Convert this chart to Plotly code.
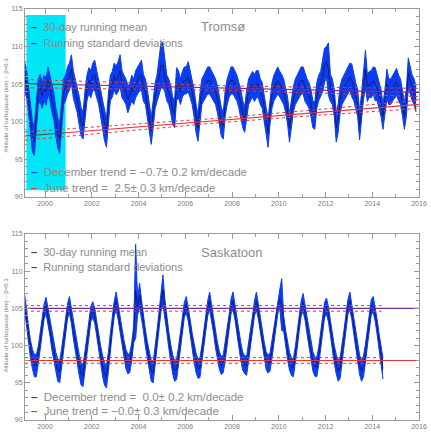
import numpy as np
import plotly.graph_objects as go

# ---------------- data ----------------
START_YEAR = 1999
START_MONTH = 2  # first monthly sample: Feb 1999

# Tromsø 30-day running mean (km), monthly, Feb 1999 - Nov 2015
tromso_mean = [
    106.0, 105.0, 103.0, 100.5, 98.0, 97.5, 100.5, 104.0, 104.5, 103.5, 104.5,
    104.0, 105.5, 104.5, 103.0, 102.0, 100.0, 98.5, 97.8, 101.5, 104.0, 104.5, 105.5,
    106.0, 107.0, 105.0, 104.0, 103.0, 101.5, 100.0, 99.5, 102.5, 104.5, 105.5, 105.0,
    106.0, 106.2, 105.0, 104.0, 102.5, 101.0, 99.5, 98.5, 102.0, 104.5, 105.0, 106.0,
    105.5, 106.0, 106.8, 105.0, 104.5, 104.0, 103.0, 103.5, 104.5, 104.0, 105.0, 105.5,
    106.0, 106.2, 104.5, 104.0, 102.5, 100.5, 98.8, 101.0, 103.5, 104.5, 106.0, 107.5,
    107.5, 106.0, 104.5, 104.0, 103.0, 101.5, 101.0, 105.0, 105.0, 104.0, 105.0, 105.5,
    105.5, 106.0, 105.0, 104.0, 102.5, 100.5, 99.2, 102.0, 104.0, 104.5, 105.0, 105.5,
    105.5, 105.0, 104.5, 104.0, 103.0, 101.5, 100.0, 99.5, 102.5, 104.0, 105.0, 105.5,
    105.5, 105.0, 104.5, 103.5, 102.5, 101.0, 100.3, 102.5, 104.0, 104.5, 105.0, 104.5,
    105.0, 105.0, 104.0, 103.5, 102.0, 100.0, 98.5, 101.5, 103.5, 104.5, 105.0, 105.5,
    105.0, 104.5, 104.0, 103.0, 101.5, 99.2, 101.0, 103.0, 104.0, 104.5, 105.0, 105.5,
    105.5, 104.5, 104.0, 103.5, 102.5, 101.0, 100.8, 103.5, 104.5, 105.0, 106.0, 107.5,
    108.0, 107.0, 104.5, 104.0, 102.5, 99.2, 100.5, 103.0, 104.0, 104.5, 105.0, 105.5,
    106.0, 105.5, 104.5, 103.5, 102.5, 99.5, 102.0, 105.0, 107.0, 104.5, 105.0, 105.0,
    105.5, 105.0, 104.5, 103.5, 102.5, 100.7, 102.5, 105.0, 104.0, 104.0, 104.5, 105.0,
    105.3, 104.5, 104.0, 102.5, 100.8, 102.5, 106.5, 105.5, 104.5, 104.0, 103.0,
]
# Tromsø running standard deviation (km)
tromso_std = [
    2.0, 1.8, 1.7, 1.8, 2.0, 2.0, 1.8, 1.7, 1.8, 1.7, 1.7,
    1.8, 1.8, 1.7, 1.7, 1.8, 1.9, 2.0, 2.0, 1.8, 1.7, 1.7, 1.8,
    1.8, 1.9, 1.8, 1.7, 1.8, 1.9, 1.9, 1.8, 1.7, 1.7, 1.7, 1.8,
    1.8, 2.0, 1.8, 1.7, 1.8, 1.9, 2.0, 1.9, 1.7, 1.7, 1.7, 1.8,
    1.9, 2.0, 2.1, 1.8, 1.7, 1.7, 1.8, 1.6, 1.7, 1.7, 1.8, 1.8,
    1.9, 2.0, 1.8, 1.7, 1.8, 1.9, 1.8, 1.8, 1.7, 1.8, 2.2, 3.0,
    3.0, 2.0, 1.7, 1.7, 1.8, 1.8, 1.8, 2.2, 1.8, 1.7, 1.7, 1.8,
    1.8, 2.0, 1.8, 1.7, 1.8, 1.9, 1.8, 1.8, 1.7, 1.7, 1.7, 1.8,
    1.8, 1.8, 1.7, 1.7, 1.8, 1.9, 1.9, 1.8, 1.7, 1.7, 1.7, 1.8,
    1.8, 1.8, 1.7, 1.7, 1.8, 1.8, 1.7, 1.7, 1.7, 1.7, 1.7, 1.8,
    1.8, 1.8, 1.7, 1.7, 1.8, 1.9, 1.9, 1.8, 1.7, 1.7, 1.7, 1.8,
    1.7, 1.8, 1.7, 1.7, 1.8, 1.9, 1.8, 1.7, 1.7, 1.7, 1.7, 1.8,
    1.8, 1.8, 1.7, 1.7, 1.8, 1.8, 1.8, 1.7, 1.7, 1.7, 2.0, 2.3,
    2.0, 3.5, 1.8, 1.7, 1.8, 1.9, 1.9, 1.8, 1.7, 1.7, 1.7, 1.8,
    1.8, 2.2, 1.7, 1.7, 1.8, 1.9, 1.8, 2.0, 2.5, 1.8, 1.7, 1.8,
    1.8, 2.2, 1.7, 1.7, 1.8, 1.7, 1.8, 2.0, 1.7, 1.7, 1.7, 1.8,
    1.8, 1.7, 1.7, 1.7, 1.8, 1.8, 2.0, 1.8, 1.7, 1.7, 1.7,
]

# Saskatoon 30-day running mean (km), monthly, Feb 1999 - Jun 2014
saskatoon_mean = [
    105.8, 103.5, 101.5, 99.5, 98.2, 97.3, 97.3, 98.7, 100.6, 102.6, 104.6,
    105.4, 104.0, 102.3, 100.5, 99.0, 97.8, 96.7, 96.5, 98.3, 100.5, 102.6, 104.6,
    105.5, 104.0, 102.0, 100.3, 98.8, 97.4, 96.2, 96.0, 98.0, 100.3, 102.5, 104.3,
    104.8, 104.0, 102.3, 100.4, 98.7, 97.3, 96.2, 95.8, 97.8, 100.5, 102.7, 105.0,
    106.0, 104.5, 102.8, 101.0, 99.5, 98.2, 97.5, 97.7, 99.2, 101.5, 107.3, 105.2,
    106.8, 105.0, 103.0, 101.0, 99.3, 97.8, 96.6, 96.4, 98.5, 101.0, 103.5, 105.8,
    107.5, 105.0, 102.8, 100.8, 99.0, 97.5, 96.6, 96.8, 98.6, 100.8, 103.0, 104.8,
    105.5, 104.3, 102.5, 100.6, 99.0, 97.7, 96.9, 97.0, 98.8, 101.0, 103.0, 105.0,
    106.0, 104.5, 102.7, 100.8, 99.2, 98.0, 97.3, 97.6, 99.2, 101.2, 103.2, 105.3,
    106.0, 104.5, 102.6, 100.7, 99.2, 97.9, 97.4, 97.3, 99.0, 101.0, 103.0, 105.0,
    106.0, 104.6, 102.8, 100.9, 99.3, 98.0, 97.5, 97.8, 99.5, 101.5, 103.5, 105.3,
    106.3, 105.5, 103.0, 101.0, 99.3, 97.9, 97.2, 97.0, 98.7, 100.8, 103.0, 105.0,
    105.8, 104.4, 102.6, 100.8, 99.2, 97.9, 97.2, 97.1, 98.6, 100.8, 103.0, 104.8,
    105.3, 104.2, 102.4, 100.5, 98.8, 97.5, 96.6, 97.0, 98.8, 101.0, 103.2, 105.2,
    106.0, 104.5, 102.6, 100.6, 98.9, 97.4, 96.6, 97.2, 99.0, 101.2, 103.3, 105.2,
    105.5, 104.3, 102.5, 100.5, 98.4, 96.9,
]
saskatoon_std = [
    1.1, 1.0, 1.1, 1.2, 1.3, 1.5, 1.5, 1.2, 1.1, 1.0, 1.0,
    1.1, 1.0, 1.0, 1.1, 1.2, 1.3, 1.5, 1.5, 1.3, 1.1, 1.0, 1.0,
    1.1, 1.0, 1.0, 1.1, 1.2, 1.4, 1.5, 1.5, 1.3, 1.1, 1.0, 1.0,
    1.1, 1.0, 1.0, 1.1, 1.3, 1.4, 1.5, 1.5, 1.3, 1.1, 1.0, 1.0,
    1.2, 1.0, 1.0, 1.1, 1.2, 1.3, 1.3, 1.3, 1.2, 1.1, 6.3, 1.1,
    1.6, 1.2, 1.0, 1.1, 1.2, 1.3, 1.4, 1.4, 1.2, 1.1, 1.0, 1.2,
    2.0, 1.2, 1.0, 1.1, 1.2, 1.3, 1.4, 1.4, 1.2, 1.1, 1.0, 1.0,
    1.1, 1.0, 1.0, 1.1, 1.2, 1.3, 1.3, 1.3, 1.2, 1.1, 1.0, 1.0,
    1.2, 1.0, 1.0, 1.1, 1.2, 1.2, 1.2, 1.2, 1.2, 1.1, 1.0, 1.0,
    1.2, 1.0, 1.0, 1.1, 1.2, 1.2, 1.2, 1.3, 1.2, 1.1, 1.0, 1.0,
    1.2, 1.0, 1.0, 1.1, 1.2, 1.2, 1.2, 1.2, 1.2, 1.1, 1.0, 1.0,
    1.2, 3.5, 1.0, 1.1, 1.2, 1.2, 1.2, 1.2, 1.2, 1.1, 1.0, 1.0,
    1.2, 1.0, 1.0, 1.1, 1.2, 1.3, 1.3, 1.3, 1.2, 1.1, 1.0, 1.0,
    1.1, 1.0, 1.0, 1.1, 1.2, 1.3, 1.4, 1.4, 1.2, 1.1, 1.0, 1.0,
    1.2, 1.0, 1.0, 1.1, 1.2, 1.3, 1.4, 1.4, 1.2, 1.1, 1.0, 1.0,
    1.1, 1.0, 1.0, 1.1, 1.3, 1.4,
]

# Trend fits (level at reference year, slope in km/decade)
TREND_REF_YEAR = 2007.5
tromso_dec_level, tromso_dec_slope = 104.5, -0.7
tromso_jun_level, tromso_jun_slope = 100.2, 2.5
sask_dec_level, sask_dec_slope = 105.0, 0.0
sask_jun_level, sask_jun_slope = 98.0, 0.0
# confidence half-widths (km) of the dotted lines
ci_years_top = [1999.14, 2003.3, 2007.5, 2011.7, 2016.0]
ci_half_top = [0.55, 0.38, 0.30, 0.38, 0.55]
ci_years_bot = [1999.14, 2006.8, 2014.4]
ci_half_bot = [0.38, 0.33, 0.38]

excluded_period = [1999.2, 2000.88]
excluded_alt = [90.9, 114.2]

x_range = [1999.14, 2016.0]
y_range = [90, 115]

trend_text_top = ["December trend = \u22120.7\u00b1 0.2 km/decade",
                  "June trend =  2.5\u00b1 0.3 km/decade"]
trend_text_bot = ["December trend =  0.0\u00b1 0.2 km/decade",
                  "June trend = \u22120.0\u00b1 0.3 km/decade"]

# ---------------- styling ----------------
BLUE = "#0a3cf2"
CYAN = "#00e6f6"
PURPLE = "#6b2fa6"
RED = "#e8343a"
GRAY_TXT = "#8c8c8c"
FONT = "Liberation Sans"

W, H = 431, 436
ML, MR, MT, MB = 25, 4, 9, 16
PW, PH = W - ML - MR, H - MT - MB


def px_to_paper(px, py):
    return (px - ML) / PW, (H - MB - py) / PH


def month_times(n):
    return np.array([START_YEAR + (START_MONTH - 1 + i + 0.5) / 12.0 for i in range(n)])


fig = go.Figure()


def add_band(mean, std, xa, ya):
    t = month_times(len(mean))
    m = np.array(mean)
    s = np.array(std)
    fig.add_trace(go.Scatter(x=t, y=m - s, mode="lines", line=dict(color=BLUE, width=1),
                             xaxis=xa, yaxis=ya, showlegend=False, hoverinfo="skip"))
    fig.add_trace(go.Scatter(x=t, y=m + s, mode="lines", line=dict(color=BLUE, width=1),
                             fill="tonexty", fillcolor=BLUE,
                             xaxis=xa, yaxis=ya, showlegend=False, hoverinfo="skip"))
    fig.add_trace(go.Scatter(x=t, y=m, mode="lines", line=dict(color="#141432", width=0.7),
                             xaxis=xa, yaxis=ya, showlegend=False, hoverinfo="skip"))


def trend_vals(years, level, slope):
    years = np.array(years, dtype=float)
    return level + slope / 10.0 * (years - TREND_REF_YEAR)


def add_line(x, y, color, xa, ya, dash="solid", width=1.2):
    fig.add_trace(go.Scatter(x=list(x), y=list(y), mode="lines",
                             line=dict(color=color, width=width, dash=dash),
                             xaxis=xa, yaxis=ya, showlegend=False, hoverinfo="skip"))


# top panel: Tromsø
add_band(tromso_mean, tromso_std, "x", "y")
for level, slope, col in [(tromso_dec_level, tromso_dec_slope, PURPLE),
                          (tromso_jun_level, tromso_jun_slope, RED)]:
    cy = np.array(ci_years_top)
    base = trend_vals(cy, level, slope)
    add_line(cy, base + np.array(ci_half_top), RED, "x", "y", dash="dot", width=1)
    add_line(cy, base - np.array(ci_half_top), RED, "x", "y", dash="dot", width=1)
    seg1 = [x_range[0], excluded_period[1]]
    seg2 = [excluded_period[1], x_range[1]]
    add_line(seg1, trend_vals(seg1, level, slope), "#4a4a4a", "x", "y")
    add_line(seg2, trend_vals(seg2, level, slope), col, "x", "y")

# bottom panel: Saskatoon
add_band(saskatoon_mean, saskatoon_std, "x2", "y2")
for level, slope, col in [(sask_dec_level, sask_dec_slope, PURPLE),
                          (sask_jun_level, sask_jun_slope, RED)]:
    cy = np.array(ci_years_bot)
    base = trend_vals(cy, level, slope)
    add_line(cy, base + np.array(ci_half_bot), RED, "x2", "y2", dash="dot", width=1)
    add_line(cy, base - np.array(ci_half_bot), RED, "x2", "y2", dash="dot", width=1)
    add_line(x_range, trend_vals(x_range, level, slope), col, "x2", "y2")

# excluded period shading (top)
fig.add_shape(type="rect", xref="x", yref="y",
              x0=excluded_period[0], x1=excluded_period[1],
              y0=excluded_alt[0], y1=excluded_alt[1],
              fillcolor=CYAN, line=dict(width=0), layer="below")

top_dom = [(H - MB - 197) / PH, 1.0]
bot_dom = [0.0, (H - MB - 234) / PH]

axis_common = dict(showline=True, linecolor="#9a9a9a", linewidth=1, mirror="allticks",
                   ticks="inside", ticklen=5, tickcolor="#9a9a9a", showgrid=False,
                   zeroline=False, ticklabeloverflow="allow",
                   tickfont=dict(size=7, color="#7a7a7a", family=FONT))
xaxis_common = dict(axis_common, range=x_range, tickmode="linear", tick0=2000, dtick=2,
                    minor=dict(dtick=1, tick0=1999, ticks="inside", ticklen=3,
                               tickcolor="#9a9a9a"))
yaxis_common = dict(axis_common, range=y_range, tickmode="linear", tick0=90, dtick=5,
                    minor=dict(dtick=1, tick0=90, ticks="inside", ticklen=3,
                               tickcolor="#9a9a9a"))

fig.update_layout(
    width=W, height=H,
    margin=dict(l=ML, r=MR, t=MT, b=MB),
    paper_bgcolor="white", plot_bgcolor="white",
    showlegend=False,
    xaxis=dict(xaxis_common, domain=[0, 1], anchor="y"),
    yaxis=dict(yaxis_common, domain=top_dom, anchor="x"),
    xaxis2=dict(xaxis_common, domain=[0, 1], anchor="y2"),
    yaxis2=dict(yaxis_common, domain=bot_dom, anchor="x2"),
)

annotations = []


def txt(px, py, text, size=11, color=GRAY_TXT, angle=0, xanchor="left"):
    x, y = px_to_paper(px, py)
    annotations.append(dict(x=x, y=y, xref="paper", yref="paper", text=text,
                            showarrow=False, xanchor=xanchor, yanchor="middle",
                            textangle=angle,
                            font=dict(family=FONT, size=size, color=color)))


def dash(color):
    return f"<span style='color:{color}'><b>\u2013</b></span>  "


for (y1, y2, name, yt1, yt2, ttext, ycen) in [
        (27, 43, "Troms\u00f8", 172, 188, trend_text_top, 105),
        (252, 267, "Saskatoon", 397, 411, trend_text_bot, 325)]:
    txt(29, y1, dash("#404040") + "30-day running mean")
    txt(29, y2, dash(BLUE) + "Running standard deviations")
    txt(203, y1, name, size=13)
    txt(29, yt1, dash(BLUE) + ttext[0], size=11.5)
    txt(29, yt2, dash(RED) + ttext[1], size=11.5)
    txt(6, ycen, "Altitude of turbopause (km) \u2013 \u03b2=0.3", size=6,
        color="#777777", angle=-90, xanchor="center")

fig.update_layout(annotations=annotations)

fig.write_html("out.html")
